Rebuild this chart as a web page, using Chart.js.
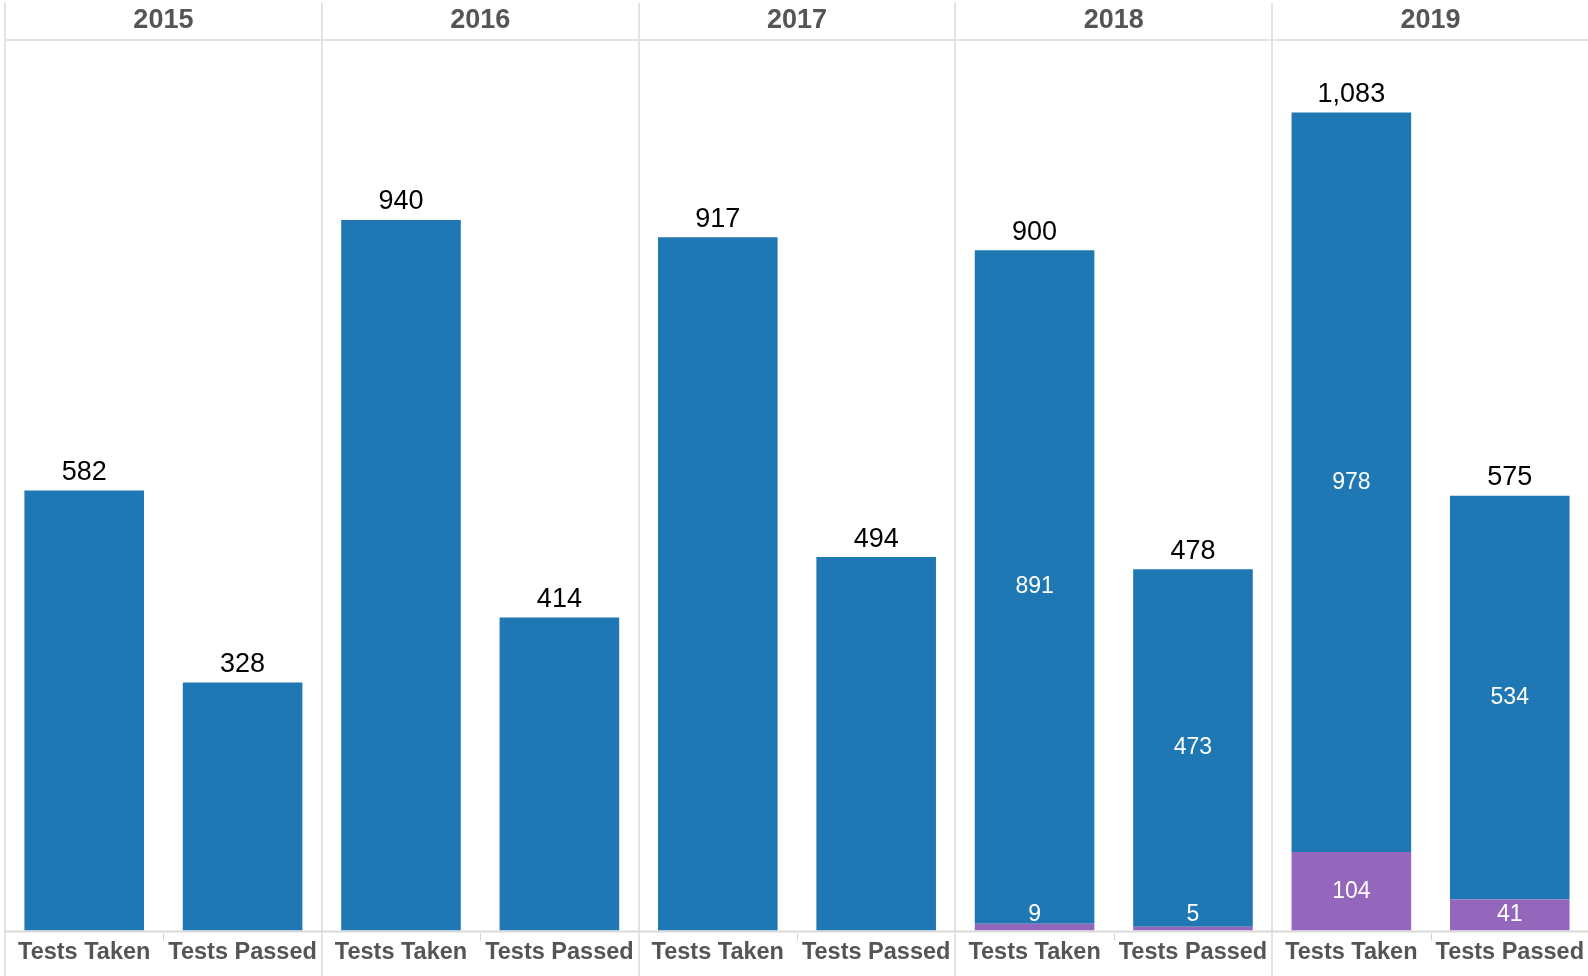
<!DOCTYPE html>
<html>
<head>
<meta charset="utf-8">
<script src="https://cdn.jsdelivr.net/npm/chart.js@4/dist/chart.umd.min.js"></script>
<style>
  html, body { margin: 0; padding: 0; background: #ffffff; overflow: hidden; }
  #wrap { width: 1588px; height: 976px; position: relative; overflow: hidden; }
</style>
</head>
<body>
<div id="wrap"><canvas id="c" width="1592" height="976"></canvas></div>
<script>
// ---- data ----
const years = ['2015', '2016', '2017', '2018', '2019'];
const measures = ['Tests Taken', 'Tests Passed'];
// blue segment (upper) per bar, in order year x measure
const blueValues = [582, 328, 940, 414, 917, 494, 891, 473, 978, 534];
// purple segment (bottom) per bar
const purpleValues = [0, 0, 0, 0, 0, 0, 9, 5, 104, 41];
// totals shown above bars
const totals = [582, 328, 940, 414, 917, 494, 900, 478, 1083, 575];

const categories = years.flatMap(() => measures);

const FONT = "'Liberation Sans', Arial, sans-serif";
const BLUE = '#1f77b4';
const PURPLE = '#9467bd';
const LINE = '#e3e3e3';

const framePlugin = {
  id: 'frame',
  beforeDatasetsDraw(chart) {
    const { ctx, chartArea, scales } = chart;
    const x = scales.x;
    const H = chart.height;
    ctx.save();
    // header line
    ctx.strokeStyle = LINE;
    ctx.lineWidth = 2;
    ctx.beginPath();
    ctx.moveTo(chartArea.left, 40);
    ctx.lineTo(chartArea.right, 40);
    ctx.stroke();
    // left border
    ctx.beginPath();
    ctx.moveTo(chartArea.left, 3);
    ctx.lineTo(chartArea.left, H);
    ctx.stroke();
    // group separators
    for (let g = 1; g < years.length; g++) {
      const i = g * 2;
      const bx = Math.round((x.getPixelForValue(i - 1) + x.getPixelForValue(i)) / 2);
      ctx.beginPath();
      ctx.moveTo(bx, 3);
      ctx.lineTo(bx, H);
      ctx.stroke();
    }
    // baseline
    ctx.strokeStyle = '#d9d9d9';
    ctx.beginPath();
    ctx.moveTo(chartArea.left, chartArea.bottom + 1);
    ctx.lineTo(chartArea.right, chartArea.bottom + 1);
    ctx.stroke();
    // small ticks between measures
    ctx.strokeStyle = '#d0d0d0';
    ctx.lineWidth = 1;
    for (let g = 0; g < years.length; g++) {
      const i = g * 2;
      const mx = Math.round((x.getPixelForValue(i) + x.getPixelForValue(i + 1)) / 2) + 0.5;
      ctx.beginPath();
      ctx.moveTo(mx, chartArea.bottom + 3);
      ctx.lineTo(mx, chartArea.bottom + 10);
      ctx.stroke();
    }
    // year headers
    ctx.fillStyle = '#555555';
    ctx.font = 'bold 27px ' + FONT;
    ctx.textAlign = 'center';
    ctx.textBaseline = 'middle';
    for (let g = 0; g < years.length; g++) {
      const i = g * 2;
      const cx = (x.getPixelForValue(i) + x.getPixelForValue(i + 1)) / 2;
      ctx.fillText(years[g], cx, 21);
    }
    ctx.restore();
  },
  afterDatasetsDraw(chart) {
    const { ctx } = chart;
    const purpleMeta = chart.getDatasetMeta(0);
    const blueMeta = chart.getDatasetMeta(1);
    ctx.save();
    ctx.textAlign = 'center';
    for (let i = 0; i < categories.length; i++) {
      const top = blueMeta.data[i];
      // total label
      ctx.fillStyle = '#000000';
      ctx.font = '27px ' + FONT;
      ctx.textBaseline = 'alphabetic';
      ctx.fillText(totals[i].toLocaleString('en-US'), top.x, top.y - 10.5);
      if (purpleValues[i] > 0) {
        ctx.fillStyle = '#ffffff';
        ctx.font = '23px ' + FONT;
        ctx.textBaseline = 'middle';
        ctx.fillText(String(blueValues[i]), top.x, (top.y + top.base) / 2);
        const p = purpleMeta.data[i];
        const py = Math.min((p.y + p.base) / 2, p.base - 16);
        ctx.fillText(String(purpleValues[i]), p.x, py);
      }
    }
    ctx.restore();
  }
};

new Chart(document.getElementById('c'), {
  type: 'bar',
  data: {
    labels: categories,
    datasets: [
      { label: 'Purple', data: purpleValues, backgroundColor: PURPLE, borderWidth: 0 },
      { label: 'Blue', data: blueValues, backgroundColor: BLUE, borderWidth: 0 }
    ]
  },
  options: {
    responsive: false,
    animation: false,
    devicePixelRatio: 1,
    layout: { padding: { left: 5, right: 0, top: 40, bottom: 0 } },
    plugins: { legend: { display: false }, tooltip: { enabled: false } },
    datasets: { bar: { categoryPercentage: 1, barPercentage: 0.755 } },
    scales: {
      x: {
        stacked: true,
        grid: { display: false, drawTicks: false },
        border: { display: false },
        ticks: {
          color: '#555555',
          font: { family: FONT, size: 23.5, weight: 'bold' },
          padding: 8,
          maxRotation: 0,
          autoSkip: false
        },
        afterFit(axis) { axis.height = 45.5; }
      },
      y: {
        stacked: true,
        display: false,
        min: 0,
        max: 1178
      }
    }
  },
  plugins: [framePlugin]
});
</script>
</body>
</html>
